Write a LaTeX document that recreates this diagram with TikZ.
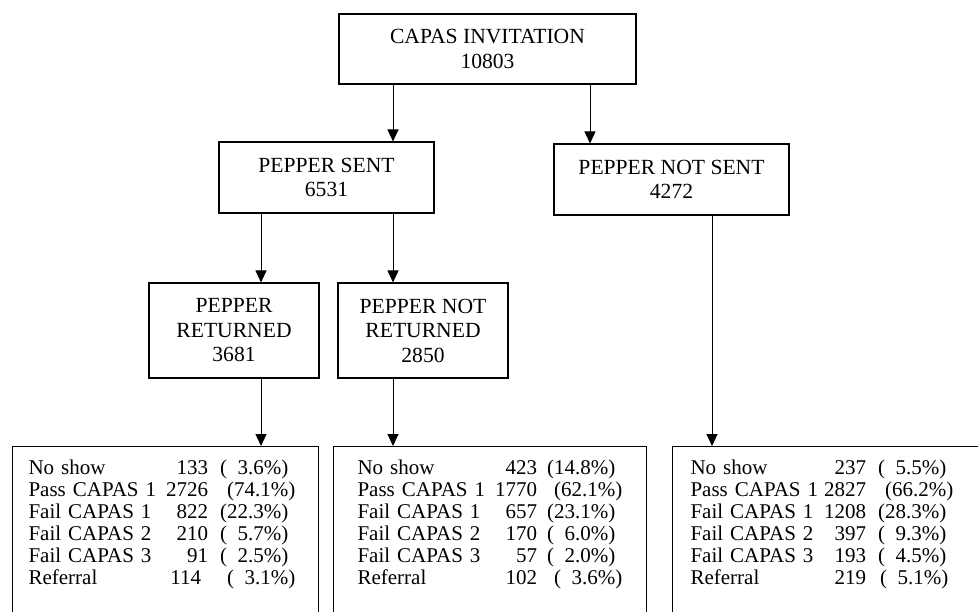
\documentclass[tikz,border=0pt]{standalone}
\usepackage{fontspec}
\setmainfont{Liberation Serif}
\usetikzlibrary{arrows.meta}

\tikzset{
  flowbox/.style={draw, line width=1.1pt, align=center, inner sep=0pt,
    font=\fontsize{21.6}{24.5}\selectfont},
  resbox/.style={draw, line width=1.1pt, anchor=north west, align=left,
    inner ysep=12.6pt, font=\fontsize{21}{22}\selectfont},
  arr/.style={line width=1pt, -{Triangle[length=12pt,width=11pt]}}
}

\begin{document}
\begin{tikzpicture}[x=1pt, y=-1pt]
\useasboundingbox (0,0) rectangle (978,611);
\clip (0,0) rectangle (978,611);

% Upper boxes
\node[flowbox, minimum width=297pt, minimum height=70pt] (invite) at (487.5, 49) {CAPAS INVITATION\\10803};
\node[flowbox, minimum width=215pt, minimum height=71pt] (sent) at (326.5, 177.5) {PEPPER SENT\\6531};
\node[flowbox, minimum width=235pt, minimum height=71pt] (notsent) at (671.5, 179.5) {PEPPER NOT SENT\\4272};
\node[flowbox, minimum width=170pt, minimum height=95pt] (ret) at (234, 330.5) {PEPPER\\RETURNED\\3681};
\node[flowbox, minimum width=170pt, minimum height=95pt] (notret) at (423, 330.5) {PEPPER NOT\\RETURNED\\2850};

% Result tables (open at the bottom of the page)
\node[resbox, inner xsep=16pt, text width=274pt] (resA) at (12, 446) {%
\begin{tabular}{@{}l@{\hspace{10pt}}r@{\hspace{12pt}}l@{}}
No show & 133 & (\phantom{0}3.6\%)\\
Pass CAPAS 1 & 2726 & \hspace{7pt}(74.1\%)\\
Fail CAPAS 1 & 822 & (22.3\%)\\
Fail CAPAS 2 & 210 & (\phantom{0}5.7\%)\\
Fail CAPAS 3 & 91 & (\phantom{0}2.5\%)\\
Referral & 114\hspace{7pt} & \hspace{7pt}(\phantom{0}3.1\%)\\[15pt]
\end{tabular}};
\node[resbox, inner xsep=24pt, text width=265pt] (resB) at (333, 446) {%
\begin{tabular}{@{}l@{\hspace{10pt}}r@{\hspace{10pt}}l@{}}
No show & 423 & (14.8\%)\\
Pass CAPAS 1 & 1770 & \hspace{7pt}(62.1\%)\\
Fail CAPAS 1 & 657 & (23.1\%)\\
Fail CAPAS 2 & 170 & (\phantom{0}6.0\%)\\
Fail CAPAS 3 & 57 & (\phantom{0}2.0\%)\\
Referral & 102 & \hspace{7pt}(\phantom{0}3.6\%)\\[15pt]
\end{tabular}};
\node[resbox, inner xsep=18pt, text width=274pt] (resC) at (672, 446) {%
\begin{tabular}{@{}l@{\hspace{6pt}}r@{\hspace{12pt}}l@{}}
No show & 237 & (\phantom{0}5.5\%)\\
Pass CAPAS 1 & 2827 & \hspace{7pt}(66.2\%)\\
Fail CAPAS 1 & 1208 & (28.3\%)\\
Fail CAPAS 2 & 397 & (\phantom{0}9.3\%)\\
Fail CAPAS 3 & 193 & (\phantom{0}4.5\%)\\
Referral & 219 & \hspace{2pt}(\phantom{0}5.1\%)\\[15pt]
\end{tabular}};

% Columns of the arrows
\coordinate (colA) at (261, 0);
\coordinate (colB) at (393, 0);
\coordinate (colC) at (590, 0);
\coordinate (colD) at (712, 0);

% Arrows
\draw[arr] (invite.south -| colB) -- (sent.north -| colB);
\draw[arr] (invite.south -| colC) -- (notsent.north -| colC);
\draw[arr] (sent.south -| colA) -- (ret.north -| colA);
\draw[arr] (sent.south -| colB) -- (notret.north -| colB);
\draw[arr] (ret.south -| colA) -- (resA.north -| colA);
\draw[arr] (notret.south -| colB) -- (resB.north -| colB);
\draw[arr] (notsent.south -| colD) -- (resC.north -| colD);

\end{tikzpicture}
\end{document}
